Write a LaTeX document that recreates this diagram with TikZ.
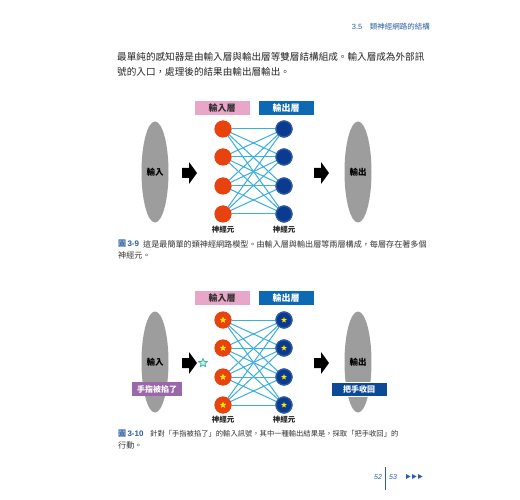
\documentclass[tikz,border=0pt]{standalone}
\usepackage{fontspec}
\setmainfont{Noto Sans CJK TC}
\newfontfamily\numfont{Liberation Sans}
\usetikzlibrary{shapes.geometric}
\definecolor{hdrblue}{HTML}{2B5FA8}
\definecolor{pinkbox}{HTML}{E8A6C9}
\definecolor{bluebox}{HTML}{0E69B4}
\definecolor{neured}{HTML}{E8420E}
\definecolor{neublue}{HTML}{0B3B8E}
\definecolor{neuring}{HTML}{2D5CA8}
\definecolor{linkblue}{HTML}{3BAEE2}
\definecolor{ellgray}{HTML}{9D9D9D}
\definecolor{purplebox}{HTML}{9A68A8}
\definecolor{darkbox}{HTML}{0C4A98}
\definecolor{staryel}{HTML}{FFE600}
\tikzset{
  bodytext/.style={anchor=west,inner sep=0pt,font=\fontsize{9.6}{11}\selectfont,text=black!85},
  captext/.style={anchor=west,inner sep=0pt,font=\fontsize{8.1}{9}\selectfont,text=black!80},
  capnum/.style={anchor=west,inner sep=0pt,font=\bfseries\fontsize{8}{9}\selectfont,text=hdrblue},
  layerlabel/.style={minimum width=55pt,minimum height=14pt,inner sep=0pt,font=\bfseries\fontsize{9}{9}\selectfont},
  inneu/.style={circle,fill=neured,minimum size=17pt,inner sep=0pt},
  outneu/.style={circle,fill=neublue,draw=neuring,line width=1.2pt,minimum size=16pt,inner sep=0pt},
  link/.style={linkblue,line width=1pt},
  blob/.style={ellipse,fill=ellgray,minimum width=27pt,minimum height=101pt,inner sep=0pt,font=\bfseries\fontsize{8.5}{9}\selectfont},
  neulabel/.style={font=\bfseries\fontsize{7.5}{8}\selectfont,inner sep=0pt,text=black!85},
  tagbox/.style={minimum width=50pt,minimum height=14pt,inner sep=0pt,text=white,font=\bfseries\fontsize{8}{9}\selectfont},
  smallstar/.style={star,star points=5,star point ratio=2.3,fill=staryel,inner sep=0pt,minimum size=7pt},
}
\newcommand{\blockarrow}[2]{%
  \fill[black] (#1-7,#2-5) -- (#1,#2-5) -- (#1,#2-11) -- (#1+8,#2) -- (#1,#2+11) -- (#1,#2+5) -- (#1-7,#2+5) -- cycle;}
\begin{document}
\begin{tikzpicture}[x=1pt,y=-1pt]
\useasboundingbox (0,0) rectangle (520,500);
\fill[white] (0,0) rectangle (520,500);
% header
\node[anchor=east,inner sep=0pt,font=\fontsize{7.5}{8}\selectfont,text=hdrblue] (hdr) at (430,27) {{\numfont 3.5}\quad 類神經網路的結構};
% body text
\node[bodytext] (b1) at (117,57) {最單純的感知器是由輸入層與輸出層等雙層結構組成。輸入層成為外部訊};
\node[bodytext] (b2) at (117,72) {號的入口，處理後的結果由輸出層輸出。};

% ---------- Figure 3-9 ----------
\node[layerlabel,fill=pinkbox,text=black!80] (la1) at (222,108) {輸入層};
\node[layerlabel,fill=bluebox,text=white] (lb1) at (286,108) {輸出層};
\foreach \i/\y in {1/129,2/157,3/186,4/214}{
  \node[inneu] (a\i) at (223,\y) {};
  \node[outneu] (o\i) at (284,\y) {};
}
\foreach \i in {1,...,4}{\foreach \j in {1,...,4}{\draw[link] (a\i) -- (o\j);}}
\foreach \i/\y in {1/129,2/157,3/186,4/214}{
  \node[inneu] at (223,\y) {};
  \node[outneu] at (284,\y) {};
}
\node[blob] (in1) at (155,172) {輸入};
\node[blob] (out1) at (358,172) {輸出};
\blockarrow{189}{173}
\blockarrow{321}{173}
\node[neulabel] (n1a) at (223,230) {神經元};
\node[neulabel] (n1b) at (284,230) {神經元};
% caption
\node[capnum] (c1n) at (118,244) {圖\,{\numfont\bfseries 3-9}};
\node[captext] (c1a) at (143,244) {這是最簡單的類神經網路模型。由輸入層與輸出層等兩層構成，每層存在著多個};
\node[captext] (c1b) at (118,255) {神經元。};

% ---------- Figure 3-10 ----------
\node[layerlabel,fill=pinkbox,text=black!80] (la2) at (222,298) {輸入層};
\node[layerlabel,fill=bluebox,text=white] (lb2) at (286,298) {輸出層};
\foreach \i/\y in {1/320,2/348,3/377,4/405}{
  \node[inneu] (p\i) at (223,\y) {};
  \node[outneu] (q\i) at (284,\y) {};
}
\foreach \i in {1,...,4}{\foreach \j in {1,...,4}{\draw[link] (p\i) -- (q\j);}}
\foreach \i/\y in {1/320,2/348,3/377,4/405}{
  \node[inneu] at (223,\y) {};
  \node[outneu] at (284,\y) {};
  \node[smallstar] at (223,\y) {};
  \node[smallstar,minimum size=6pt] at (284,\y) {};
}
\node[blob] (in2) at (155,362) {輸入};
\node[blob] (out2) at (358,362) {輸出};
\blockarrow{189}{363}
\blockarrow{321}{363}
\node[star,star points=5,star point ratio=2.2,fill=staryel!60!green!40,draw=linkblue,line width=0.8pt,inner sep=0pt,minimum size=9pt] (sig) at (203,363) {};
\node[tagbox,fill=purplebox] (t1) at (157,389) {手指被掐了};
\node[tagbox,fill=darkbox,draw=white,line width=0.8pt,minimum width=56pt] (t2) at (359,389) {把手收回};
\node[neulabel] (n2a) at (223,420) {神經元};
\node[neulabel] (n2b) at (284,420) {神經元};
% caption
\node[capnum] (c2n) at (118,434) {圖\,{\numfont\bfseries 3-10}};
\node[captext,font=\fontsize{7.3}{9}\selectfont] (c2a) at (150,434) {針對「手指被掐了」的輸入訊號，其中一種輸出結果是，採取「把手收回」的};
\node[captext] (c2b) at (118,445) {行動。};

% page numbers
\node[inner sep=0pt,text=hdrblue] (pg1) at (378,477) {\numfont\itshape\fontsize{7}{8}\selectfont 52};
\node[inner sep=0pt,text=hdrblue] (pg2) at (393,477) {\numfont\itshape\fontsize{7}{8}\selectfont 53};
\draw[hdrblue,line width=0.6pt] (385.5,467) -- (385.5,490);
\foreach \x in {406,412,418}{\fill[hdrblue] (\x,474) -- (\x+4.5,476.5) -- (\x,479) -- cycle;}
\end{tikzpicture}
\end{document}
